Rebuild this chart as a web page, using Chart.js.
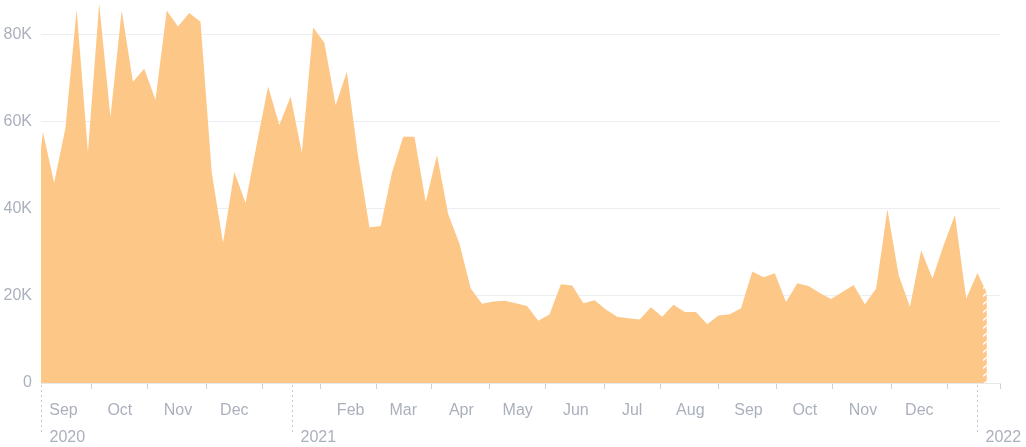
<!DOCTYPE html>
<html>
<head>
<meta charset="utf-8">
<title>Visits</title>
<script src="https://cdn.jsdelivr.net/npm/chart.js@4.4.1/dist/chart.umd.min.js"></script>
<style>
  html, body { margin: 0; padding: 0; background: #fff; }
  #chartVisits { display: block; }
</style>
</head>
<body>
<canvas id="chartVisits" width="1026" height="447"></canvas>
<script>
// datos
const firstPeriod = '2020-08-15';
const stepDays = 6;
const lastPoint = '2022-01-06';
const visits = [
  35000, 57700, 46000, 58600, 85800, 53100, 87200, 61200, 85600, 69200,
  72200, 65100, 85600, 81900, 85000, 83000, 48300, 32200, 48500, 41400,
  55000, 68100, 59300, 65800, 52900, 81700, 78200, 63900, 71500, 52000,
  35800, 36100, 48300, 56600, 56600, 41600, 52400, 38800, 32000, 21700,
  18200, 18700, 18900, 18300, 17700, 14300, 15800, 22700, 22400, 18300,
  19000, 16900, 15200, 14900, 14600, 17400, 15200, 18000, 16300, 16300,
  13500, 15500, 15800, 17200, 25600, 24300, 25200, 18600, 22900, 22300,
  20700, 19300, 20900, 22500, 18100, 21700, 39900, 24800, 17500, 30500,
  24000, 31700, 38600, 19400, 25300, 20600
];

const monthLabels = ['Sep', 'Oct', 'Nov', 'Dec', 'Feb', 'Mar', 'Apr', 'May', 'Jun', 'Jul', 'Aug', 'Sep', 'Oct', 'Nov', 'Dec'];
const monthDates = ['2020-09-01', '2020-10-01', '2020-11-01', '2020-12-01', '2021-02-01', '2021-03-01', '2021-04-01',
  '2021-05-01', '2021-06-01', '2021-07-01', '2021-08-01', '2021-09-01', '2021-10-01', '2021-11-01', '2021-12-01'];
const tickDates = ['2020-09-16', '2020-10-16', '2020-11-16', '2020-12-16', '2021-01-16', '2021-02-15', '2021-03-16',
  '2021-04-16', '2021-05-16', '2021-06-16', '2021-07-16', '2021-08-16', '2021-09-16', '2021-10-16', '2021-11-16', '2021-12-16'];
const yearLabels = ['2020', '2021', '2022'];
const yearDates = ['2020-08-20', '2021-01-01', '2022-01-01'];
const yTicks = [0, 20000, 40000, 60000, 80000];

const axisStart = '2020-08-20';
const axisEnd = '2022-01-13';
const partialFrom = '2022-01-04';

// dias desde 1 ene 2021
function dayOf(s) {
  const p = s.split('-');
  return (Date.UTC(+p[0], +p[1] - 1, +p[2]) - Date.UTC(2021, 0, 1)) / 864e5;
}

const points = visits.map((v, i) => ({
  x: i === visits.length - 1 ? dayOf(lastPoint) : dayOf(firstPeriod) + i * stepDays,
  y: v
}));

const grey = '#aab0bc';
const font = '16px "Liberation Sans", Arial, sans-serif';

// etiquetas de meses / años, lineas punteadas y rayado del ultimo periodo
const axisDecor = {
  id: 'axisDecor',
  afterDatasetsDraw(chart) {
    const ctx = chart.ctx;
    const x = chart.scales.x;
    const area = chart.chartArea;

    // rayado
    const meta = chart.getDatasetMeta(0).data;
    ctx.save();
    ctx.beginPath();
    ctx.rect(area.left, area.top, area.right - area.left, area.bottom - area.top);
    ctx.clip();
    ctx.beginPath();
    ctx.moveTo(meta[0].x, area.bottom);
    meta.forEach(p => ctx.lineTo(p.x, p.y));
    ctx.lineTo(meta[meta.length - 1].x, area.bottom);
    ctx.closePath();
    ctx.clip();
    const hx = x.getPixelForValue(dayOf(partialFrom));
    ctx.beginPath();
    ctx.rect(hx, area.top, area.right - hx, area.bottom - area.top);
    ctx.clip();
    ctx.strokeStyle = '#ffffff';
    ctx.lineWidth = 1.5;
    for (let y = area.bottom + 2; y > area.top; y -= 8) {
      ctx.beginPath();
      ctx.moveTo(hx - 1, y);
      ctx.lineTo(hx + 9, y - 8);
      ctx.stroke();
    }
    ctx.restore();
  },
  afterDraw(chart) {
    const ctx = chart.ctx;
    const x = chart.scales.x;
    const bottom = chart.chartArea.bottom;
    ctx.save();
    ctx.font = font;
    ctx.fillStyle = grey;
    ctx.textBaseline = 'middle';
    ctx.textAlign = 'center';
    monthDates.forEach((d, i) => {
      ctx.fillText(monthLabels[i], x.getPixelForValue(dayOf(d)), bottom + 28);
    });
    ctx.textAlign = 'left';
    yearDates.forEach((d, i) => {
      const px = Math.round(x.getPixelForValue(dayOf(d))) + 0.5;
      ctx.strokeStyle = '#c4c8cf';
      ctx.lineWidth = 1;
      ctx.setLineDash([2, 3]);
      ctx.beginPath();
      ctx.moveTo(px, bottom + 2);
      ctx.lineTo(px, bottom + 50);
      ctx.stroke();
      ctx.fillText(yearLabels[i], px + 8, bottom + 55);
    });
    ctx.restore();
  }
};

const data = {
  datasets: [{
    label: 'Visits',
    data: points,
    backgroundColor: '#fdc887',
    borderWidth: 0,
    pointRadius: 0,
    fill: 'origin',
    tension: 0
  }]
};

const config = {
  type: 'line',
  data: data,
  options: {
    responsive: false,
    animation: false,
    devicePixelRatio: 1,
    layout: { padding: { left: 0, right: 26, top: 0, bottom: 0 } },
    plugins: {
      legend: { display: false },
      tooltip: { enabled: false }
    },
    scales: {
      x: {
        type: 'linear',
        min: dayOf(axisStart),
        max: dayOf(axisEnd),
        afterBuildTicks: axis => {
          axis.ticks = tickDates.map(d => ({ value: dayOf(d) })).concat([{ value: dayOf(axisEnd) }]);
        },
        afterFit: axis => {
          axis.height = 64;
          axis.paddingLeft = 0;
          axis.paddingRight = 0;
        },
        grid: { drawOnChartArea: false, drawTicks: true, tickLength: 6, color: '#cdd1d8' },
        border: { display: true, color: '#e6e8ec' },
        ticks: { display: false }
      },
      y: {
        min: 0,
        max: 88000,
        afterBuildTicks: axis => {
          axis.ticks = yTicks.map(v => ({ value: v }));
        },
        afterFit: axis => {
          axis.width = 41;
          axis.paddingTop = 0;
          axis.paddingBottom = 0;
        },
        grid: { color: '#eceef1', drawTicks: false },
        border: { display: false },
        ticks: {
          color: grey,
          font: { family: '"Liberation Sans", Arial, sans-serif', size: 16 },
          padding: 9,
          callback: v => v === 0 ? '0' : (v / 1000) + 'K'
        }
      }
    }
  },
  plugins: [axisDecor]
};

const node = document.getElementById('chartVisits');
var chartVisits = new Chart(
  node,
  config
);
</script>
</body>
</html>
